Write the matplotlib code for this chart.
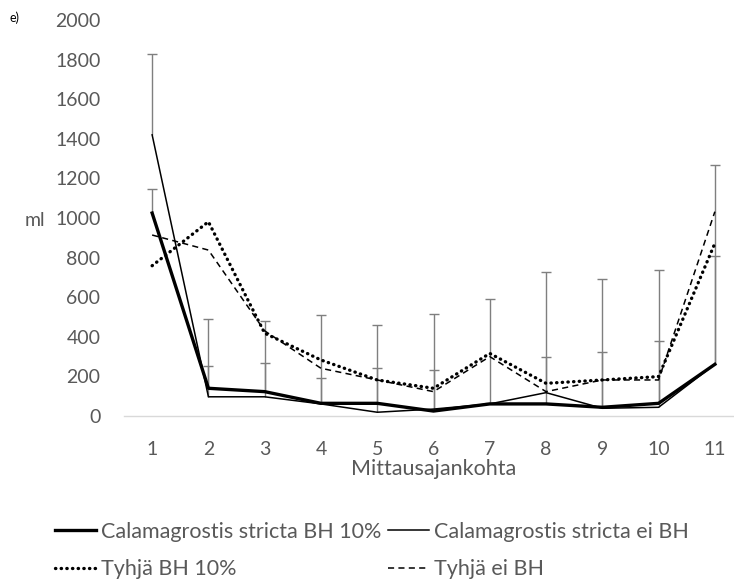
import numpy as np
import matplotlib.pyplot as plt

plt.rcParams['font.family'] = ['Lato', 'DejaVu Sans']

# measurement points and series means (ml)
points = np.arange(1, 12)
cal_bh10 = [1025, 140, 123, 64, 64, 25, 61, 61, 44, 64, 261]
cal_ei = [1420, 97, 97, 61, 19, 35, 61, 118, 39, 44, 261]
tyh_bh10 = [759, 981, 418, 283, 182, 140, 316, 165, 182, 199, 872]
tyh_ei = [914, 838, 430, 241, 182, 123, 300, 123, 182, 182, 1032]

# upper error bars (only plus direction) for the Calamagrostis series
err_cal_bh10 = [120, 350, 357, 446, 396, 492, 531, 666, 649, 673, 1007]
err_cal_ei = [408, 155, 169, 129, 225, 197, 5, 178, 286, 333, 547]

W, H = 734, 586
fig = plt.figure(figsize=(W / 100, H / 100), dpi=100)
# axes box in pixels: left 124, right 743, bottom 416, top 20
ax = fig.add_axes([124 / W, 1 - 416 / H, (743 - 124) / W, (416 - 20) / H])

txt = '#595959'
errc = '#7f7f7f'

# error bars first so the lines sit on top
for y, e in [(cal_bh10, err_cal_bh10), (cal_ei, err_cal_ei)]:
    y = np.array(y)
    top = y + np.array(e)
    ax.vlines(points, y, top, color=errc, lw=1.0, zorder=1)
    ax.plot(points, top, ls='none', marker='_', ms=7, mew=1.0, color=errc, zorder=1)

l1, = ax.plot(points, cal_bh10, color='black', lw=2.4, solid_joinstyle='round',
              label='Calamagrostis stricta BH 10%', zorder=3)
l2, = ax.plot(points, cal_ei, color='black', lw=1.1,
              label='Calamagrostis stricta ei BH', zorder=3)
l3, = ax.plot(points, tyh_bh10, color='black', lw=2.4, ls=(0, (0.1, 1.6)),
              dash_capstyle='round', label='Tyhjä BH 10%', zorder=3)
l4, = ax.plot(points, tyh_ei, color='black', lw=1.1, ls=(0, (4, 2.8)),
              label='Tyhjä ei BH', zorder=3)

ax.set_xlim(0.5, 11.5)
ax.set_ylim(0, 2000)
ax.set_xticks(points)
ax.set_yticks(np.arange(0, 2001, 200))
ax.tick_params(axis='both', length=0, labelsize=14, colors=txt)
ax.tick_params(axis='x', pad=18)
ax.tick_params(axis='y', pad=17)

for s in ['top', 'right', 'left']:
    ax.spines[s].set_visible(False)
ax.spines['bottom'].set_color('#d9d9d9')
ax.spines['bottom'].set_linewidth(1.0)

fig.text(434 / W, 1 - 469 / H, 'Mittausajankohta', fontsize=15.5, color=txt,
         ha='center', va='center')
fig.text(35 / W, 1 - 220 / H, 'ml', fontsize=14, color=txt, ha='center', va='center')
fig.text(10 / W, 1 - 18 / H, 'e)', fontsize=9, color='black', ha='left', va='center')

# legend rows: A B / C D
fig.legend([l1, l3, l2, l4],
           [l1.get_label(), l3.get_label(), l2.get_label(), l4.get_label()],
           ncol=2, loc='upper left', bbox_to_anchor=(55 / W, 1 - 522 / H),
           borderaxespad=0, borderpad=0,
           frameon=False, fontsize=15.5, handlelength=1.9, handletextpad=0.25,
           columnspacing=0.3, labelspacing=0.8, labelcolor=txt)

fig.savefig('out.png', dpi=100)
